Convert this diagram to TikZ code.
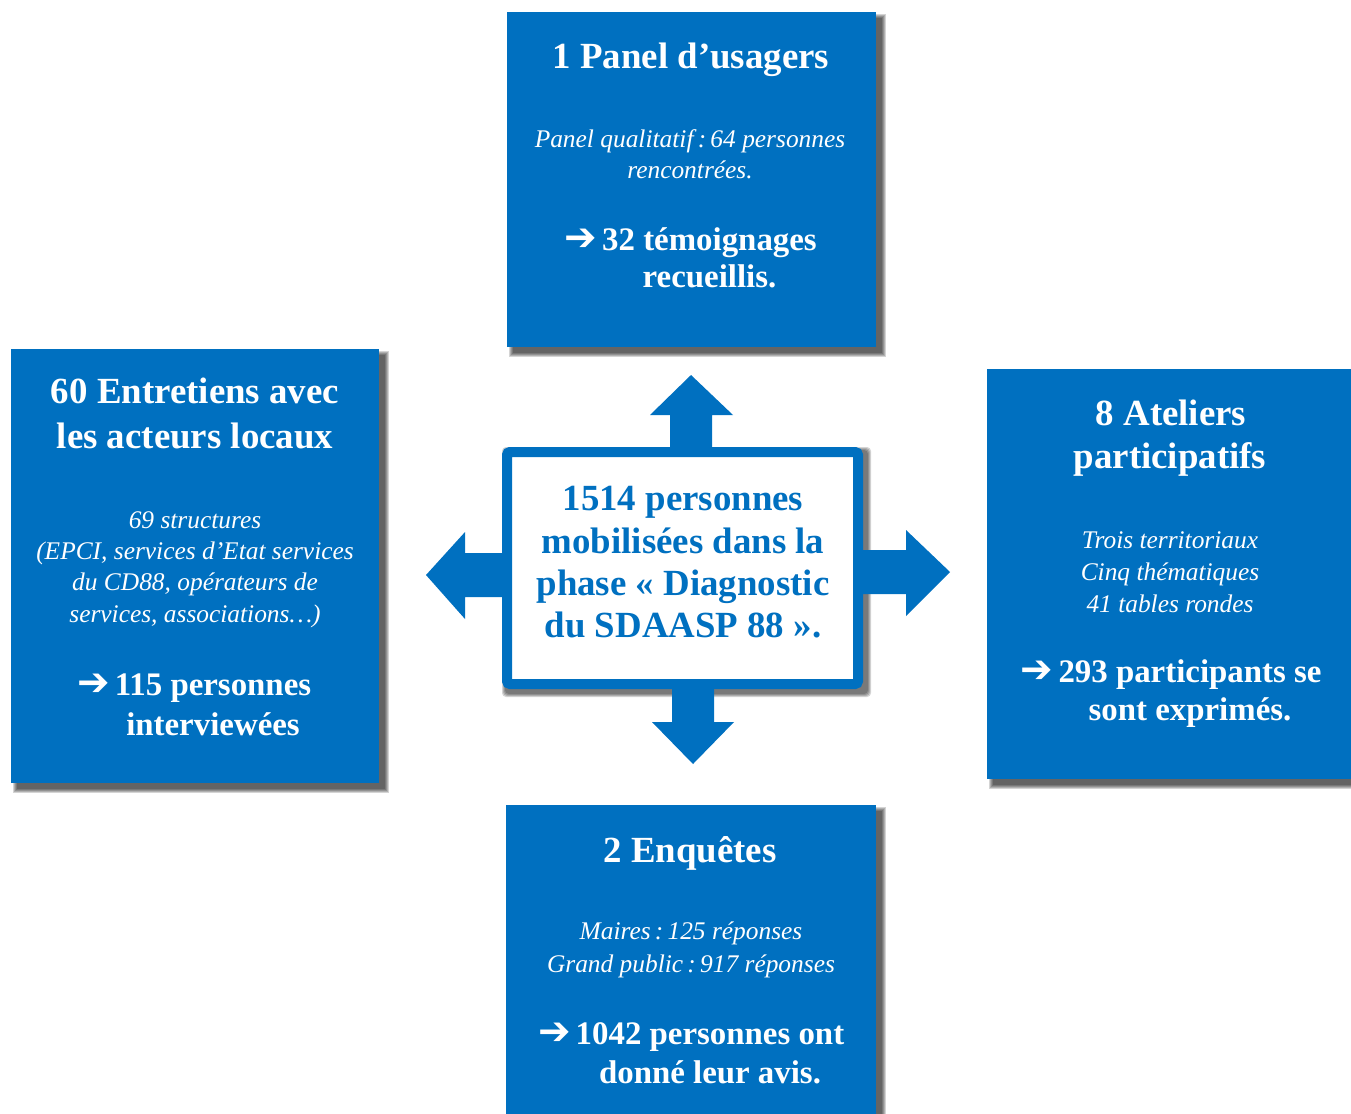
\documentclass[tikz,border=0pt]{standalone}
\usepackage{fontspec}
\setmainfont{Liberation Serif}
\newfontfamily\arrowfont{DejaVu Sans}
\definecolor{boxblue}{HTML}{0070C0}
\newcommand{\resarrow}{\llap{{\arrowfont\fontsize{39}{40}\selectfont ➔}\hspace{5bp}}}
\begin{document}
\begin{tikzpicture}[x=1bp,y=-1bp,
  bluebox/.style={fill=boxblue, draw=none, inner sep=0, outer sep=0, anchor=north west},
  ttl/.style={text=white, font=\bfseries\fontsize{37}{44}\selectfont, anchor=base, inner sep=0},
  itl/.style={text=white, font=\itshape\fontsize{25.5}{32}\selectfont, anchor=base, inner sep=0},
  res/.style={text=white, font=\bfseries\fontsize{33}{40}\selectfont, anchor=base, inner sep=0},
  ctrtxt/.style={text=boxblue, font=\bfseries\fontsize{37}{42}\selectfont, anchor=base, inner sep=0},
  blockarrow/.style={fill=boxblue, draw=none},
  shadowlayer/.style={fill=black, opacity=0.17}]
\useasboundingbox (0,0) rectangle (1351,1113);
\clip (0,0) rectangle (1351,1113);
\fill[white] (0,0) rectangle (1351,1113);

% boxes (nodes)
\path
  node[bluebox, minimum width=369bp, minimum height=335bp] (top) at (507,12) {}
  node[bluebox, minimum width=368bp, minimum height=434bp] (lft) at (11,349) {}
  node[bluebox, minimum width=380bp, minimum height=410bp] (rgt) at (987,369) {}
  node[bluebox, minimum width=370bp, minimum height=340bp] (bot) at (506,805) {};

% soft shadows
\foreach \n in {top,lft,rgt,bot}{
  \foreach \e in {4,3,2,1,0}{
    \fill[shadowlayer] ([shift={(6-\e,6-\e)}]\n.north west) rectangle ([shift={(6+\e,6+\e)}]\n.south east);
  }
}
\foreach \e in {3,2,1,0}{
  \fill[shadowlayer, rounded corners=4bp] (505-\e,450-\e) rectangle (868+\e,694+\e);
}

% boxes drawn again on top of shadows
\foreach \n in {top,lft,rgt,bot}{
  \fill[boxblue] (\n.north west) rectangle (\n.south east);
}

% block arrows
\fill[blockarrow] (670,452) -- (670,415) -- (650,415) -- (691,375) -- (733,415) -- (712,415) -- (712,452) -- cycle;
\fill[blockarrow] (672,684) -- (672,722) -- (652,722) -- (693,764) -- (734,722) -- (714,722) -- (714,684) -- cycle;
\fill[blockarrow] (507,553) -- (465,553) -- (465,532) -- (426,575) -- (465,619) -- (465,597) -- (507,597) -- cycle;
\fill[blockarrow] (858,550) -- (906,550) -- (906,530) -- (950,572) -- (906,616) -- (906,594) -- (858,594) -- cycle;

% center box
\node[draw=boxblue, line width=10bp, fill=white, rounded corners=3bp,
      minimum width=351bp, minimum height=232bp, inner sep=0] (ctr) at (682.5,568) {};

% center text
\node[ctrtxt] (c1) at (683,510) {1514 personnes};
\node[ctrtxt] (c2) at (683,553) {mobilisées dans la};
\node[ctrtxt] (c3) at (683,595) {phase « Diagnostic};
\node[ctrtxt] (c4) at (683,637) {du SDAASP 88 ».};

% top box text
\node[ttl] (t1) at (691,68) {1 Panel d’usagers};
\node[itl] (t2) at (690,147) {Panel qualitatif\,:\,64 personnes};
\node[itl] (t3) at (690,178) {rencontrées.};
\node[res] (t4) at (709.5,250) {\resarrow 32 témoignages};
\node[res] (t5) at (709.5,287) {recueillis.};

% left box text
\node[ttl] (l1) at (195,403) {60 Entretiens avec};
\node[ttl] (l2) at (195,448) {les acteurs locaux};
\node[itl] (l3) at (195,528) {69 structures};
\node[itl] (l4) at (195,559) {(EPCI, services d’Etat services};
\node[itl] (l5) at (195,590) {du CD88, opérateurs de};
\node[itl] (l6) at (195,622) {services, associations…)};
\node[res] (l7) at (213,695) {\resarrow 115 personnes};
\node[res] (l8) at (213,735) {interviewées};

% right box text
\node[ttl] (r1) at (1171,425) {8 Ateliers};
\node[ttl] (r2) at (1170,468) {participatifs};
\node[itl] (r3) at (1170,548) {Trois territoriaux};
\node[itl] (r4) at (1170,580) {Cinq thématiques};
\node[itl] (r5) at (1170,612) {41 tables rondes};
\node[res] (r6) at (1190,682) {\resarrow 293 participants se};
\node[res] (r7) at (1190,720) {sont exprimés.};

% bottom box text
\node[ttl] (b1) at (690,862) {2 Enquêtes};
\node[itl] (b2) at (691,939) {Maires\,:\,125 réponses};
\node[itl] (b3) at (691,972) {Grand public\,:\,917 réponses};
\node[res] (b4) at (710,1044) {\resarrow 1042 personnes ont};
\node[res] (b5) at (710,1083) {donné leur avis.};
\end{tikzpicture}
\end{document}
